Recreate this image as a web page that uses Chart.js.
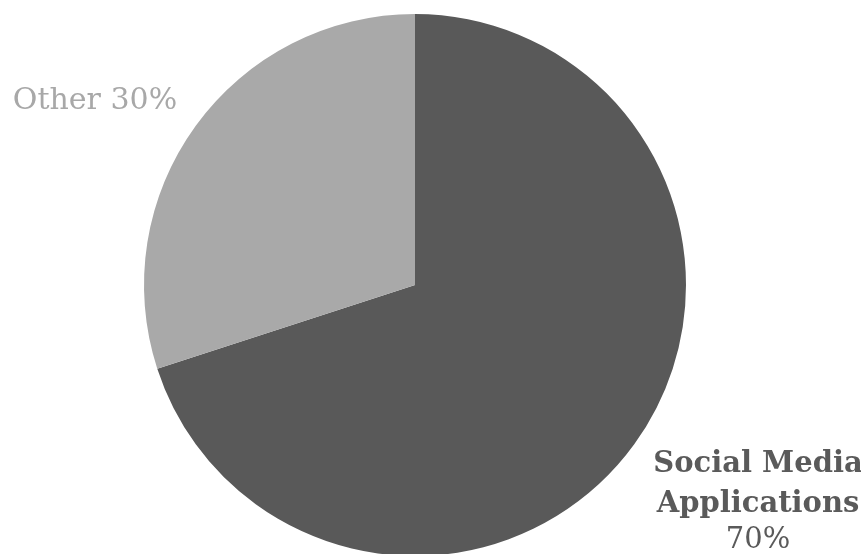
<!DOCTYPE html>
<html>
<head>
<meta charset="utf-8">
<script src="https://cdn.jsdelivr.net/npm/chart.js@4/dist/chart.umd.min.js"></script>
<style>
  html, body { margin: 0; padding: 0; background: #fff; overflow: hidden; }
  #pie { display: block; }
</style>
</head>
<body>
<canvas id="pie" width="861" height="570"></canvas>
<script>
// Share of usage by category
const categories = ['Social Media Applications', 'Other']
const shares = [70, 30]
const sliceColors = ['#595959', '#a9a9a9']

// Label lines and where each label sits
const labelSpecs = [
  { lines: ['Social Media', 'Applications'], x: 758, y: 464, color: '#5a5a5a', weight: 'bold', size: 29, gap: 40 },
  { lines: ['Other'], x: 95, y: 101, color: '#a8a8a8', weight: 'normal', size: 30, gap: 0, inline: true }
]

const pieLabels = {
  id: 'pieLabels',
  afterDraw(chart) {
    const ctx = chart.ctx
    ctx.save()
    ctx.textAlign = 'center'
    ctx.textBaseline = 'middle'
    labelSpecs.forEach(function(s, i) {
      ctx.fillStyle = s.color
      ctx.font = s.weight + ' ' + s.size + "px 'DejaVu Serif', serif"
      const pct = shares[i] + '%'
      if (s.inline) {
        ctx.fillText(s.lines[0] + ' ' + pct, s.x, s.y)
      } else {
        s.lines.forEach(function(t, k) {
          ctx.fillText(t, s.x, s.y + k * s.gap)
        })
        ctx.font = "normal 29px 'DejaVu Serif', serif"
        ctx.fillText(pct, s.x, s.y + s.lines.length * s.gap - 4)
      }
    })
    ctx.restore()
  }
}

new Chart(document.getElementById('pie'), {
  type: 'pie',
  data: {
    labels: categories,
    datasets: [{
      data: shares,
      backgroundColor: sliceColors,
      borderWidth: 0
    }]
  },
  options: {
    responsive: false,
    animation: false,
    layout: { padding: { top: 14, bottom: 14, left: 144, right: 175 } },
    plugins: {
      legend: { display: false },
      tooltip: { enabled: false }
    }
  },
  plugins: [pieLabels]
})
</script>
</body>
</html>
